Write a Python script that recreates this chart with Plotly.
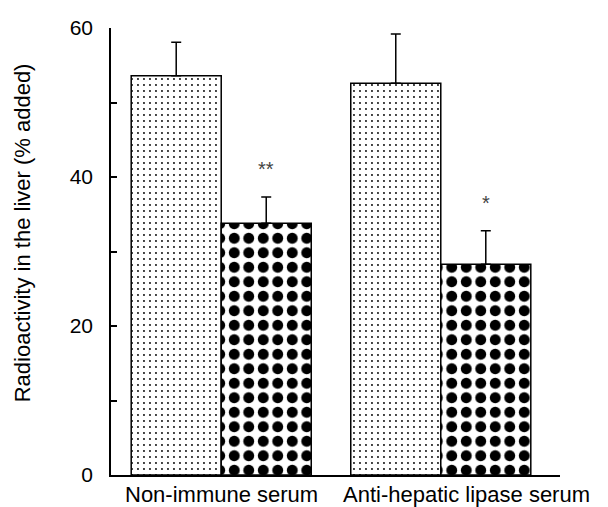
import plotly.graph_objects as go

categories = ["Non-immune serum", "Anti-hepatic lipase serum"]
control_values = [53.6, 52.6]
control_errors = [4.5, 6.6]
treated_values = [33.8, 28.3]
treated_errors = [3.5, 4.5]
significance = ["**", "*"]
y_tickvals = [0, 10, 20, 30, 40, 50, 60]
y_ticktext = ["0", "", "20", "", "40", "", "60"]
y_title = "Radioactivity in the liver (% added)"

FONT = "Liberation Sans, Arial, Helvetica, sans-serif"
bargap = 0.18

fig = go.Figure()
fig.add_trace(go.Bar(
    x=categories, y=control_values, name="Control",
    marker=dict(color="white", line=dict(color="black", width=1.5),
                pattern=dict(shape=".", fgcolor="black", bgcolor="white",
                             fgopacity=1, size=6, solidity=0.08,
                             fillmode="replace")),
    error_y=dict(type="data", array=control_errors,
                 arrayminus=[0] * len(control_errors), symmetric=False,
                 color="black", thickness=1.5, width=5),
))
fig.add_trace(go.Bar(
    x=categories, y=treated_values, name="Treated",
    marker=dict(color="white", line=dict(color="black", width=1.5),
                pattern=dict(shape=".", fgcolor="black", bgcolor="white",
                             fgopacity=1, size=14.5, solidity=0.45,
                             fillmode="replace")),
    error_y=dict(type="data", array=treated_errors,
                 arrayminus=[0] * len(treated_errors), symmetric=False,
                 color="black", thickness=1.5, width=5),
))

offset = (1 - bargap) / 4
for i, (v, e, s) in enumerate(zip(treated_values, treated_errors, significance)):
    fig.add_annotation(x=i + offset, y=v + e, xref="x", yref="y",
                       text=s, showarrow=False, yanchor="bottom", yshift=15,
                       font=dict(family=FONT, size=20, color="#444"))

# category labels (shifted like in the original figure)
label_shift = [0, 26]
for i, (c, dx) in enumerate(zip(categories, label_shift)):
    fig.add_annotation(x=i, xref="x", y=0, yref="y", text=c,
                       showarrow=False, xanchor="center", yanchor="top",
                       xshift=dx, yshift=-5,
                       font=dict(family=FONT, size=22, color="black"))

fig.add_annotation(x=-0.198, xref="paper", y=0.541, yref="paper",
                   text=y_title, textangle=-90, showarrow=False,
                   xanchor="center", yanchor="middle",
                   font=dict(family=FONT, size=22, color="black"))

fig.update_layout(
    width=608, height=507,
    margin=dict(l=103, r=56, t=20, b=40),
    paper_bgcolor="white", plot_bgcolor="white",
    barmode="group", bargap=bargap, bargroupgap=0,
    showlegend=False,
    font=dict(family=FONT, size=20, color="black"),
    xaxis=dict(type="category", range=[-0.502, 1.543], showline=True,
               linecolor="black", linewidth=1.5, ticks="", showgrid=False,
               zeroline=False, showticklabels=False, automargin=False),
    yaxis=dict(range=[0, 60], tickvals=y_tickvals, ticktext=y_ticktext,
               ticks="inside", ticklen=6, tickwidth=1.5, tickcolor="black",
               showline=True, linecolor="black", linewidth=1.5,
               showgrid=False, zeroline=False, tickfont=dict(size=21),
               ticklabelstandoff=12, automargin=False),
)

fig.write_html("out.html")
